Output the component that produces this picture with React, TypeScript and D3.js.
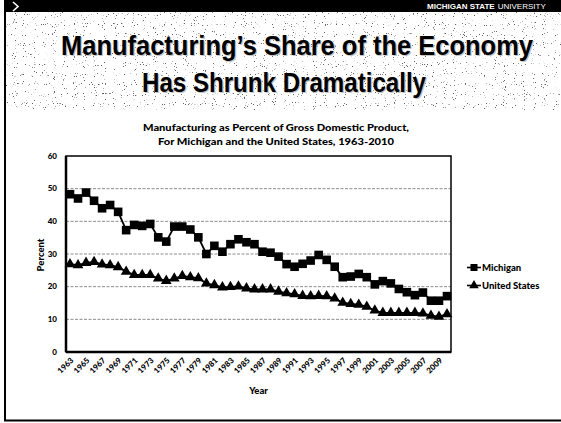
import React from "react";
import * as d3 from "d3";

const years = [
  1963, 1964, 1965, 1966, 1967, 1968, 1969, 1970, 1971, 1972,
  1973, 1974, 1975, 1976, 1977, 1978, 1979, 1980, 1981, 1982,
  1983, 1984, 1985, 1986, 1987, 1988, 1989, 1990, 1991, 1992,
  1993, 1994, 1995, 1996, 1997, 1998, 1999, 2000, 2001, 2002,
  2003, 2004, 2005, 2006, 2007, 2008, 2009, 2010,
];
const michigan = [
  48.3, 47.0, 48.8, 46.3, 44.0, 45.0, 42.9, 37.3, 38.9, 38.6,
  39.2, 35.1, 33.8, 38.4, 38.4, 37.5, 35.1, 30.0, 32.5, 30.7,
  33.0, 34.5, 33.6, 33.0, 30.7, 30.4, 29.2, 26.9, 26.1, 27.0,
  28.0, 29.7, 28.2, 26.1, 22.9, 23.1, 23.9, 22.9, 20.7, 21.7,
  21.0, 19.3, 18.3, 17.4, 18.2, 15.7, 15.7, 17.1,
];
const unitedStates = [
  26.9, 26.6, 27.3, 27.6, 26.8, 26.6, 26.0, 24.6, 23.6, 23.6,
  23.6, 22.5, 21.8, 22.5, 23.3, 22.9, 22.6, 21.0, 20.5, 19.8,
  19.9, 20.1, 19.5, 19.2, 19.2, 19.2, 18.5, 18.0, 17.7, 17.2,
  17.1, 17.2, 17.1, 16.4, 15.1, 14.7, 14.5, 13.9, 12.7, 12.0,
  12.0, 12.0, 12.0, 12.0, 11.8, 11.1, 10.8, 11.6,
];
const yTicks = [0, 10, 20, 30, 40, 50, 60];
const xTickYears = [
  1963, 1965, 1967, 1969, 1971, 1973, 1975, 1977, 1979, 1981, 1983, 1985,
  1987, 1989, 1991, 1993, 1995, 1997, 1999, 2001, 2003, 2005, 2007, 2009,
];
const seriesNames = ["Michigan", "United States"];
const titleLines = ["Manufacturing\u2019s Share of the Economy", "Has Shrunk Dramatically"];
const subtitleLines = [
  "Manufacturing as Percent of Gross Domestic Product,",
  "For Michigan and the United States, 1963-2010",
];

const W = 561;
const H = 423;
const chartFont = "Lato, 'Open Sans', sans-serif";
const titleFont = "'Liberation Sans', Arial, sans-serif";

export default function App() {
  const x = d3.scalePoint<number>().domain(years).range([66, 451]).padding(0.5);
  const y = d3.scaleLinear().domain([0, 60]).range([352, 156]);

  const line = d3
    .line<number>()
    .x((_, i) => x(years[i]) as number)
    .y((d) => y(d));

  const tri = d3.symbol().type(d3.symbolTriangle).size(50)();
  const triLegend = d3.symbol().type(d3.symbolTriangle).size(40)();

  return (
    <div style={{ position: "fixed", left: 0, top: 0 }}>
      <svg width={W} height={H} style={{ display: "block", background: "#fff" }}>
        <defs>
          <filter id="speck" x="0" y="0" width="100%" height="100%">
            <feTurbulence type="fractalNoise" baseFrequency="0.9" numOctaves="1" seed="7" result="t" />
            <feColorMatrix
              in="t"
              type="matrix"
              values="0 0 0 0 0.12  0 0 0 0 0.12  0 0 0 0 0.12  16 0 0 0 -10.6"
            />
          </filter>
        </defs>
        <rect x={0} y={0} width={W} height={H} fill="#fff" />
        {/* speckled title band */}
        <rect x={6} y={12} width={W - 6} height={98} fill="#000" filter="url(#speck)" />
        {/* header bar */}
        <rect x={4} y={0} width={W - 4} height={12} fill="#000" />
        <path d="M13,2 L18,6.5 L13,11" fill="none" stroke="#fff" strokeWidth={1.6} />
        <text x={427} y={9} fill="#fff" fontFamily={titleFont} fontWeight="bold" fontSize={8}>
          MICHIGAN STATE
          <tspan fontWeight="normal" dx={3}>UNIVERSITY</tspan>
        </text>
        {/* slide frame */}
        <line x1={5} x2={5} y1={0} y2={421} stroke="#000" strokeWidth={2} />
        <line x1={4} x2={W} y1={420.5} y2={420.5} stroke="#000" strokeWidth={2} />

        {/* Title with shadow */}
        {titleLines.map((t, i) => {
          const cx = i === 0 ? 297 : 284;
          const by = i === 0 ? 55 : 92;
          const tl = i === 0 ? 472 : 284;
          return (
            <g key={t}>
              <text
                x={cx + 1.2}
                y={by + 1.2}
                textAnchor="middle"
                fontFamily={titleFont}
                fontWeight="bold"
                fontSize={27}
                fill="#c4c4c4"
                textLength={tl}
                lengthAdjust="spacingAndGlyphs"
              >
                {t}
              </text>
              <text
                x={cx}
                y={by}
                textAnchor="middle"
                fontFamily={titleFont}
                fontWeight="bold"
                fontSize={27}
                fill="#000"
                textLength={tl}
                lengthAdjust="spacingAndGlyphs"
              >
                {t}
              </text>
            </g>
          );
        })}

        {/* Subtitle */}
        {subtitleLines.map((t, i) => (
          <text
            key={t}
            x={276}
            y={131 + i * 14}
            textAnchor="middle"
            fontFamily={chartFont}
            fontWeight={900}
            fontSize={10}
            fill="#000"
            textLength={i === 0 ? 266 : 236}
            lengthAdjust="spacingAndGlyphs"
          >
            {t}
          </text>
        ))}

        {/* gridlines */}
        {yTicks
          .filter((v) => v > 0 && v < 60)
          .map((v) => (
            <line
              key={v}
              x1={66}
              x2={451}
              y1={y(v)}
              y2={y(v)}
              stroke="#8c8c8c"
              strokeWidth={1}
              strokeDasharray="3 1.5"
            />
          ))}
        {/* plot border */}
        <rect x={66} y={156} width={385} height={196} fill="none" stroke="#000" strokeWidth={1.5} />
        <line x1={66} x2={66} y1={156} y2={352} stroke="#000" strokeWidth={2.5} />
        <line x1={66} x2={451} y1={352} y2={352} stroke="#000" strokeWidth={2.5} />

        {/* y tick labels */}
        {yTicks.map((v) => (
          <text
            key={v}
            x={57}
            y={y(v) + 2.8}
            textAnchor="end"
            fontFamily={chartFont}
            fontWeight={900}
            fontSize={8}
            fill="#000"
          >
            {v}
          </text>
        ))}
        <text
          transform={`translate(44,255) rotate(-90)`}
          textAnchor="middle"
          fontFamily={chartFont}
          fontWeight={900}
          fontSize={9.5}
          fill="#000"
        >
          Percent
        </text>

        {/* x tick labels */}
        {xTickYears.map((yr) => (
          <text
            key={yr}
            transform={`translate(${(x(yr) as number) + 2},${359}) rotate(-45)`}
            textAnchor="end"
            dy="0.35em"
            fontFamily={chartFont}
            fontWeight={900}
            fontSize={8}
            fill="#000"
          >
            {yr}
          </text>
        ))}
        <text x={258.5} y={394} textAnchor="middle" fontFamily={chartFont} fontWeight={900} fontSize={9.5} fill="#000">
          Year
        </text>

        {/* series */}
        <path d={line(michigan) ?? ""} fill="none" stroke="#000" strokeWidth={1.8} />
        {michigan.map((v, i) => (
          <rect
            key={`m${i}`}
            x={(x(years[i]) as number) - 4.3}
            y={y(v) - 4.3}
            width={8.6}
            height={8.6}
            fill="#000"
          />
        ))}
        <path d={line(unitedStates) ?? ""} fill="none" stroke="#000" strokeWidth={1.8} />
        {unitedStates.map((v, i) => (
          <path
            key={`u${i}`}
            d={tri ?? ""}
            transform={`translate(${x(years[i])},${y(v)})`}
            fill="#000"
          />
        ))}

        {/* legend */}
        {seriesNames.map((n, i) => {
          const ly = 267.5 + i * 18;
          return (
            <g key={n}>
              <line x1={467} x2={481} y1={ly} y2={ly} stroke="#000" strokeWidth={1.6} />
              {i === 0 ? (
                <rect x={470.5} y={ly - 3.5} width={7} height={7} fill="#000" />
              ) : (
                <path d={triLegend ?? ""} transform={`translate(474,${ly})`} fill="#000" />
              )}
              <text x={482} y={ly + 3.2} fontFamily={chartFont} fontWeight={900} fontSize={9.5} fill="#000">
                {n}
              </text>
            </g>
          );
        })}
      </svg>
    </div>
  );
}
